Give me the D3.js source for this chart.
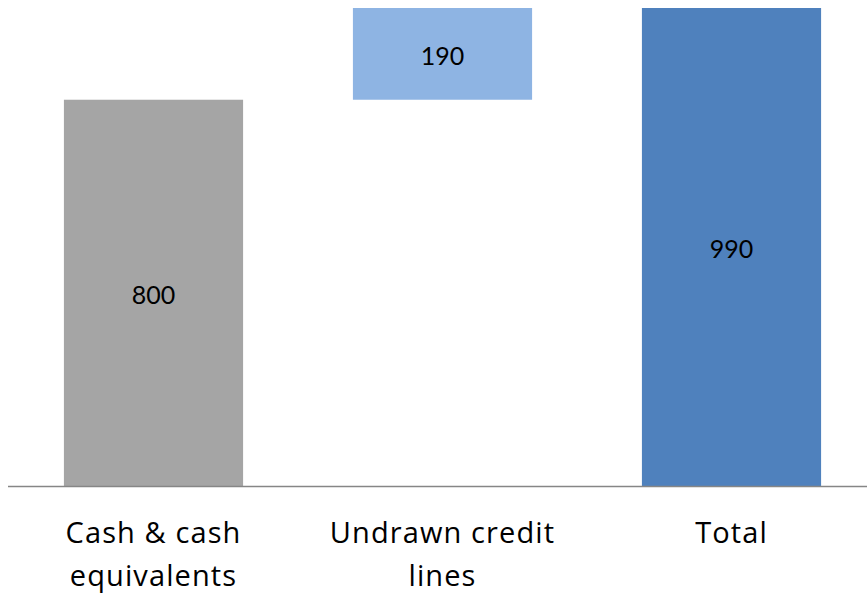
<!DOCTYPE html>
<html><head><meta charset="utf-8">
<script src="https://cdn.jsdelivr.net/npm/d3@7"></script>
<style>body{margin:0;background:#fff}svg{display:block}</style>
</head><body>
<script>
const categories = ["Cash & cash equivalents", "Undrawn credit lines", "Total"];
const labelLines = [["Cash & cash", "equivalents"], ["Undrawn credit", "lines"], ["Total"]];
const bases = [0, 800, 0];
const values = [800, 190, 990];
const colors = ["#a5a5a5", "#8eb4e3", "#4f81bd"];

const W = 867, H = 593;
const svg = d3.select("body").append("svg").attr("width", W).attr("height", H);
const x = d3.scaleBand().domain(categories).range([9, 876]).paddingInner(0.38).paddingOuter(0.19);
const y = d3.scaleLinear().domain([0, 990]).range([486, 8]);

svg.selectAll("rect.bar").data(categories).join("rect")
  .attr("class","bar")
  .attr("x", d => x(d))
  .attr("width", x.bandwidth())
  .attr("y", (d,i) => y(bases[i] + values[i]))
  .attr("height", (d,i) => y(bases[i]) - y(bases[i] + values[i]))
  .attr("fill", (d,i) => colors[i]);

svg.append("line").attr("x1", 8).attr("x2", W).attr("y1", 486.5).attr("y2", 486.5)
  .attr("stroke", "#868686").attr("stroke-width", 1.5);

svg.selectAll("text.val").data(categories).join("text")
  .attr("class","val")
  .attr("x", d => x(d) + x.bandwidth()/2)
  .attr("y", (d,i) => (y(bases[i]) + y(bases[i] + values[i]))/2)
  .attr("dy", "0.45em")
  .attr("text-anchor","middle")
  .attr("font-family","Lato, 'Open Sans', sans-serif")
  .attr("font-size", 25)
  .attr("fill","#000")
  .text((d,i) => values[i]);

const g = svg.selectAll("text.cat").data(categories).join("text")
  .attr("class","cat")
  .attr("x", d => x(d) + x.bandwidth()/2)
  .attr("y", 543)
  .attr("text-anchor","middle")
  .attr("font-family","'Open Sans', Lato, sans-serif")
  .attr("font-size", 29)
  .attr("letter-spacing", "1.1px")
  .attr("fill","#000");
g.each(function(d,i){
  const t = d3.select(this);
  labelLines[i].forEach((l,j) => t.append("tspan").attr("x", x(d)+x.bandwidth()/2).attr("dy", j===0?0:43).text(l));
});
</script>
</body></html>
